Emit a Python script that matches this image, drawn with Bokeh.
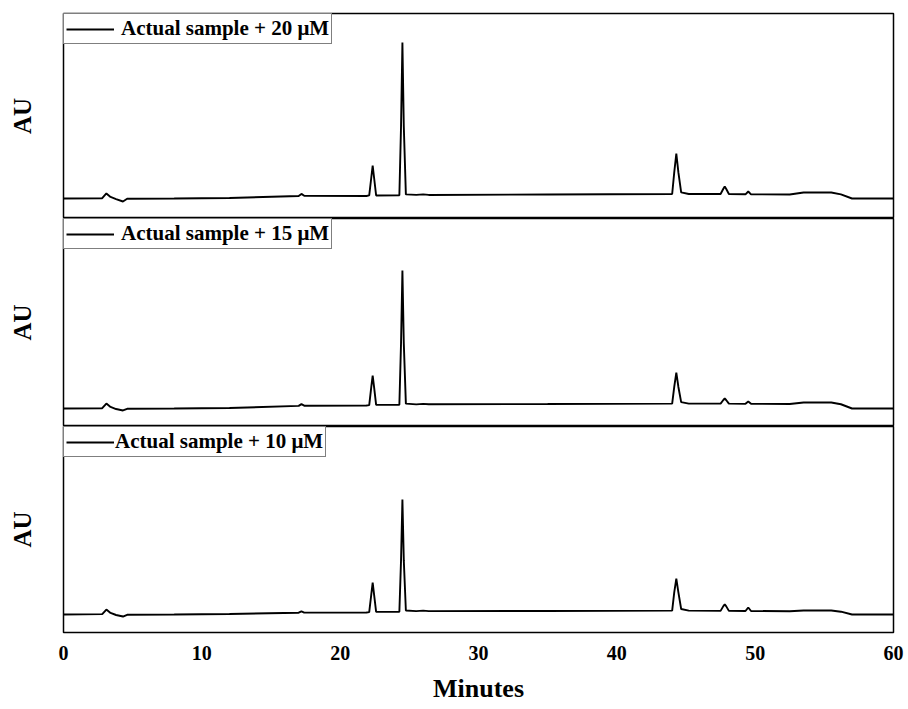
from bokeh.plotting import figure
from bokeh.layouts import column
from bokeh.models import Range1d, FixedTicker, Legend, LegendItem
from bokeh.embed import file_html
from bokeh.resources import INLINE

# ---- data (retention time in minutes, detector response in arbitrary units) ----
time_20 = [0.0, 2.8, 3.1, 3.4, 3.8, 4.3, 4.6, 8.0, 12.0, 17.0, 17.2, 17.4, 21.9, 22.1, 22.25, 22.35, 22.45,
           22.6, 24.28, 24.4, 24.5, 24.6, 24.75, 25.5, 26.0, 26.4, 35.0, 44.0, 44.15, 44.3, 44.45, 44.65,
           45.2, 47.5, 47.7, 47.8, 47.9, 48.1, 49.3, 49.5, 49.7, 52.5, 53.5, 55.5, 56.2, 57.0, 60.0]
au_20 = [19.5, 19.8, 24.4, 21.0, 19.0, 16.6, 19.2, 19.5, 20.0, 22.0, 24.0, 22.2, 22.0, 22.5, 40.0, 51.7, 40.0,
         22.5, 22.6, 90.0, 171.7, 90.0, 23.5, 23.0, 23.5, 23.0, 23.4, 23.9, 45.0, 63.4, 45.0, 25.5,
         23.9, 23.9, 29.0, 31.2, 29.0, 23.9, 23.6, 26.3, 23.6, 23.4, 25.4, 25.4, 23.5, 19.5, 19.5]

time_15 = list(time_20)
au_15 = [17.3, 17.6, 22.1, 18.8, 16.8, 15.4, 17.0, 17.3, 17.8, 19.8, 21.5, 20.0, 20.2, 20.6, 38.0, 49.0, 38.0,
         20.8, 20.9, 80.0, 150.0, 80.0, 22.0, 21.3, 21.8, 21.4, 21.6, 22.0, 38.0, 51.9, 38.0, 23.5,
         22.0, 22.0, 25.5, 26.9, 25.5, 22.0, 21.8, 24.0, 21.8, 21.6, 23.1, 23.1, 21.4, 17.3, 17.3]

time_10 = list(time_20)
au_10 = [17.5, 17.8, 22.3, 19.0, 17.0, 15.5, 17.2, 17.5, 18.0, 19.2, 20.5, 19.3, 19.4, 19.8, 37.0, 48.5, 37.0,
         20.0, 20.2, 70.0, 129.1, 70.0, 21.3, 20.8, 21.2, 20.8, 20.9, 21.2, 39.0, 52.4, 39.0, 22.8,
         21.2, 21.0, 25.6, 27.2, 25.6, 21.0, 20.9, 24.3, 20.9, 20.6, 21.4, 21.4, 20.2, 17.5, 17.5]

labels = ["Actual sample + 20 μM", "Actual sample + 15 μM", "Actual sample + 10 μM"]
x_ticks = [0, 10, 20, 30, 40, 50, 60]

FONT = "Liberation Serif"
x_range = Range1d(0, 60)


def make_panel(t, v, label, height, b_top, b_bottom, bottom_axis, standoff):
    p = figure(width=905, height=height, x_range=x_range, y_range=Range1d(0, 200),
               output_backend="svg", toolbar_location=None,
               min_border_left=63, min_border_right=12,
               min_border_top=b_top, min_border_bottom=b_bottom)
    p.grid.visible = False
    p.outline_line_color = "black"
    p.outline_line_width = 1.5
    p.outline_line_alpha = 1.0
    p.background_fill_color = "white"
    p.border_fill_color = "white"

    # y axis: only the "AU" title
    p.yaxis.ticker = FixedTicker(ticks=[])
    p.yaxis.major_tick_line_color = None
    p.yaxis.minor_tick_line_color = None
    p.yaxis.axis_line_color = None
    p.yaxis.major_tick_out = 0
    p.yaxis.major_label_standoff = 0
    p.yaxis.axis_label = "AU"
    p.yaxis.axis_label_text_font = FONT
    p.yaxis.axis_label_text_font_style = "bold"
    p.yaxis.axis_label_text_font_size = "25px"
    p.yaxis.axis_label_text_color = "black"
    p.yaxis.axis_label_standoff = 28

    if bottom_axis:
        p.xaxis.ticker = FixedTicker(ticks=x_ticks)
        p.xaxis.major_tick_line_color = None
        p.xaxis.minor_tick_line_color = None
        p.xaxis.axis_line_color = None
        p.xaxis.major_tick_out = 0
        p.xaxis.major_tick_in = 0
        p.xaxis.major_label_standoff = 13
        p.xaxis.major_label_text_font = FONT
        p.xaxis.major_label_text_font_style = "bold"
        p.xaxis.major_label_text_font_size = "20px"
        p.xaxis.major_label_text_color = "black"
        p.xaxis.axis_label = "Minutes"
        p.xaxis.axis_label_text_font = FONT
        p.xaxis.axis_label_text_font_style = "bold"
        p.xaxis.axis_label_text_font_size = "26px"
        p.xaxis.axis_label_text_color = "black"
        p.xaxis.axis_label_standoff = 11
    else:
        p.xaxis.visible = False

    r = p.line(t, v, line_color="black", line_width=1.9)
    leg = Legend(items=[LegendItem(label=label, renderers=[r])], location="top_left",
                 margin=0, padding=2, spacing=0,
                 border_line_color="black", border_line_width=1,
                 background_fill_color="white", background_fill_alpha=1.0,
                 label_text_font=FONT, label_text_font_style="bold",
                 label_text_font_size="21px", label_text_color="black",
                 glyph_width=48, glyph_height=24, label_height=24,
                 label_standoff=standoff)
    p.add_layout(leg)
    return p


p1 = make_panel(time_20, au_20, labels[0], 218, 13, 0, False, 7)
p2 = make_panel(time_15, au_15, labels[1], 208, 0, 0, False, 7)
p3 = make_panel(time_10, au_10, labels[2], 281, 0, 75, True, 1)

layout = column(p1, p2, p3, spacing=0)

open("out.html", "w").write(file_html(layout, INLINE))
